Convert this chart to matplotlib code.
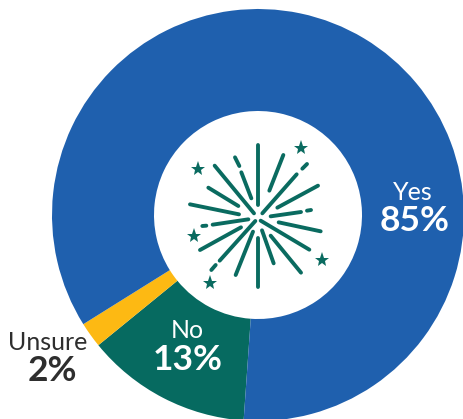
import matplotlib
matplotlib.use("Agg")
import matplotlib.pyplot as plt

categories = ["No", "Unsure", "Yes"]
values = [13, 2, 85]
colors = ["#066A60", "#FDB913", "#1F60AE"]
value_labels = ["13%", "2%", "85%"]

W, H = 464, 419
CX, CY, R_OUT, R_IN = 258, 215, 206, 104
BURST = "#0A6B60"
FONT = ["Lato", "DejaVu Sans"]

# Firework emblem strokes, as (x0, y0, x1, y1) in the emblem's own grid
strokes = [
    (263, 60, 263, 240), (340, 90, 298, 197), (380, 148, 277, 265),
    (444, 182, 322, 248), (393, 261, 302, 274), (411, 257, 423, 255),
    (326, 292, 452, 319), (272, 287, 418, 374), (302, 332, 393, 443),
    (276, 316, 311, 415), (263, 340, 263, 487), (249, 320, 197, 450),
    (256, 288, 149, 407), (137, 420, 124, 435), (213, 307, 90, 375),
    (235, 283, 128, 299), (109, 302, 97, 303), (207, 268, 60, 238),
    (205, 243, 115, 188), (252, 265, 134, 122), (244, 220, 214, 142),
    (208, 123, 195, 97), (411, 117, 397, 131),
]
stars = [(394, 70), (85, 131), (71, 334), (119, 473), (457, 404)]


def emblem_xy(x, y):
    # Emblem grid is three units per figure pixel, origin at (170, 125)
    return x / 3 + 170, H - (y / 3 + 125)


fig = plt.figure(figsize=(W / 100, H / 100), dpi=100)
ax = fig.add_axes([0, 0, 1, 1])

ax.pie(
    values,
    colors=colors,
    startangle=-94,
    counterclock=False,
    center=(CX, H - CY),
    radius=R_OUT,
    wedgeprops={"width": R_OUT - R_IN, "linewidth": 0},
    frame=True,
)
ax.set_xlim(0, W)
ax.set_ylim(0, H)
ax.set_aspect("equal")
ax.axis("off")

for x0, y0, x1, y1 in strokes:
    a = emblem_xy(x0, y0)
    b = emblem_xy(x1, y1)
    ax.plot([a[0], b[0]], [a[1], b[1]], color=BURST, lw=2.8,
            solid_capstyle="round")
for sx, sy in stars:
    px, py = emblem_xy(sx, sy)
    ax.plot(px, py, marker="*", ms=11, color=BURST, mew=0)


def label(x_name, x_value, y_name, y_value, name, value, color):
    ax.text(x_name, H - y_name, name, ha="center", va="center", color=color,
            fontsize=18, family=FONT)
    ax.text(x_value, H - y_value, value, ha="center", va="center", color=color,
            fontsize=25.5, fontweight="bold", family=FONT)


label(413, 415, 192, 221, categories[2], value_labels[2], "white")
label(187, 188, 331, 360, categories[0], value_labels[0], "white")
label(48, 52, 343, 371, categories[1], value_labels[1], "#2E2E2E")

fig.savefig("out.png", dpi=100)
